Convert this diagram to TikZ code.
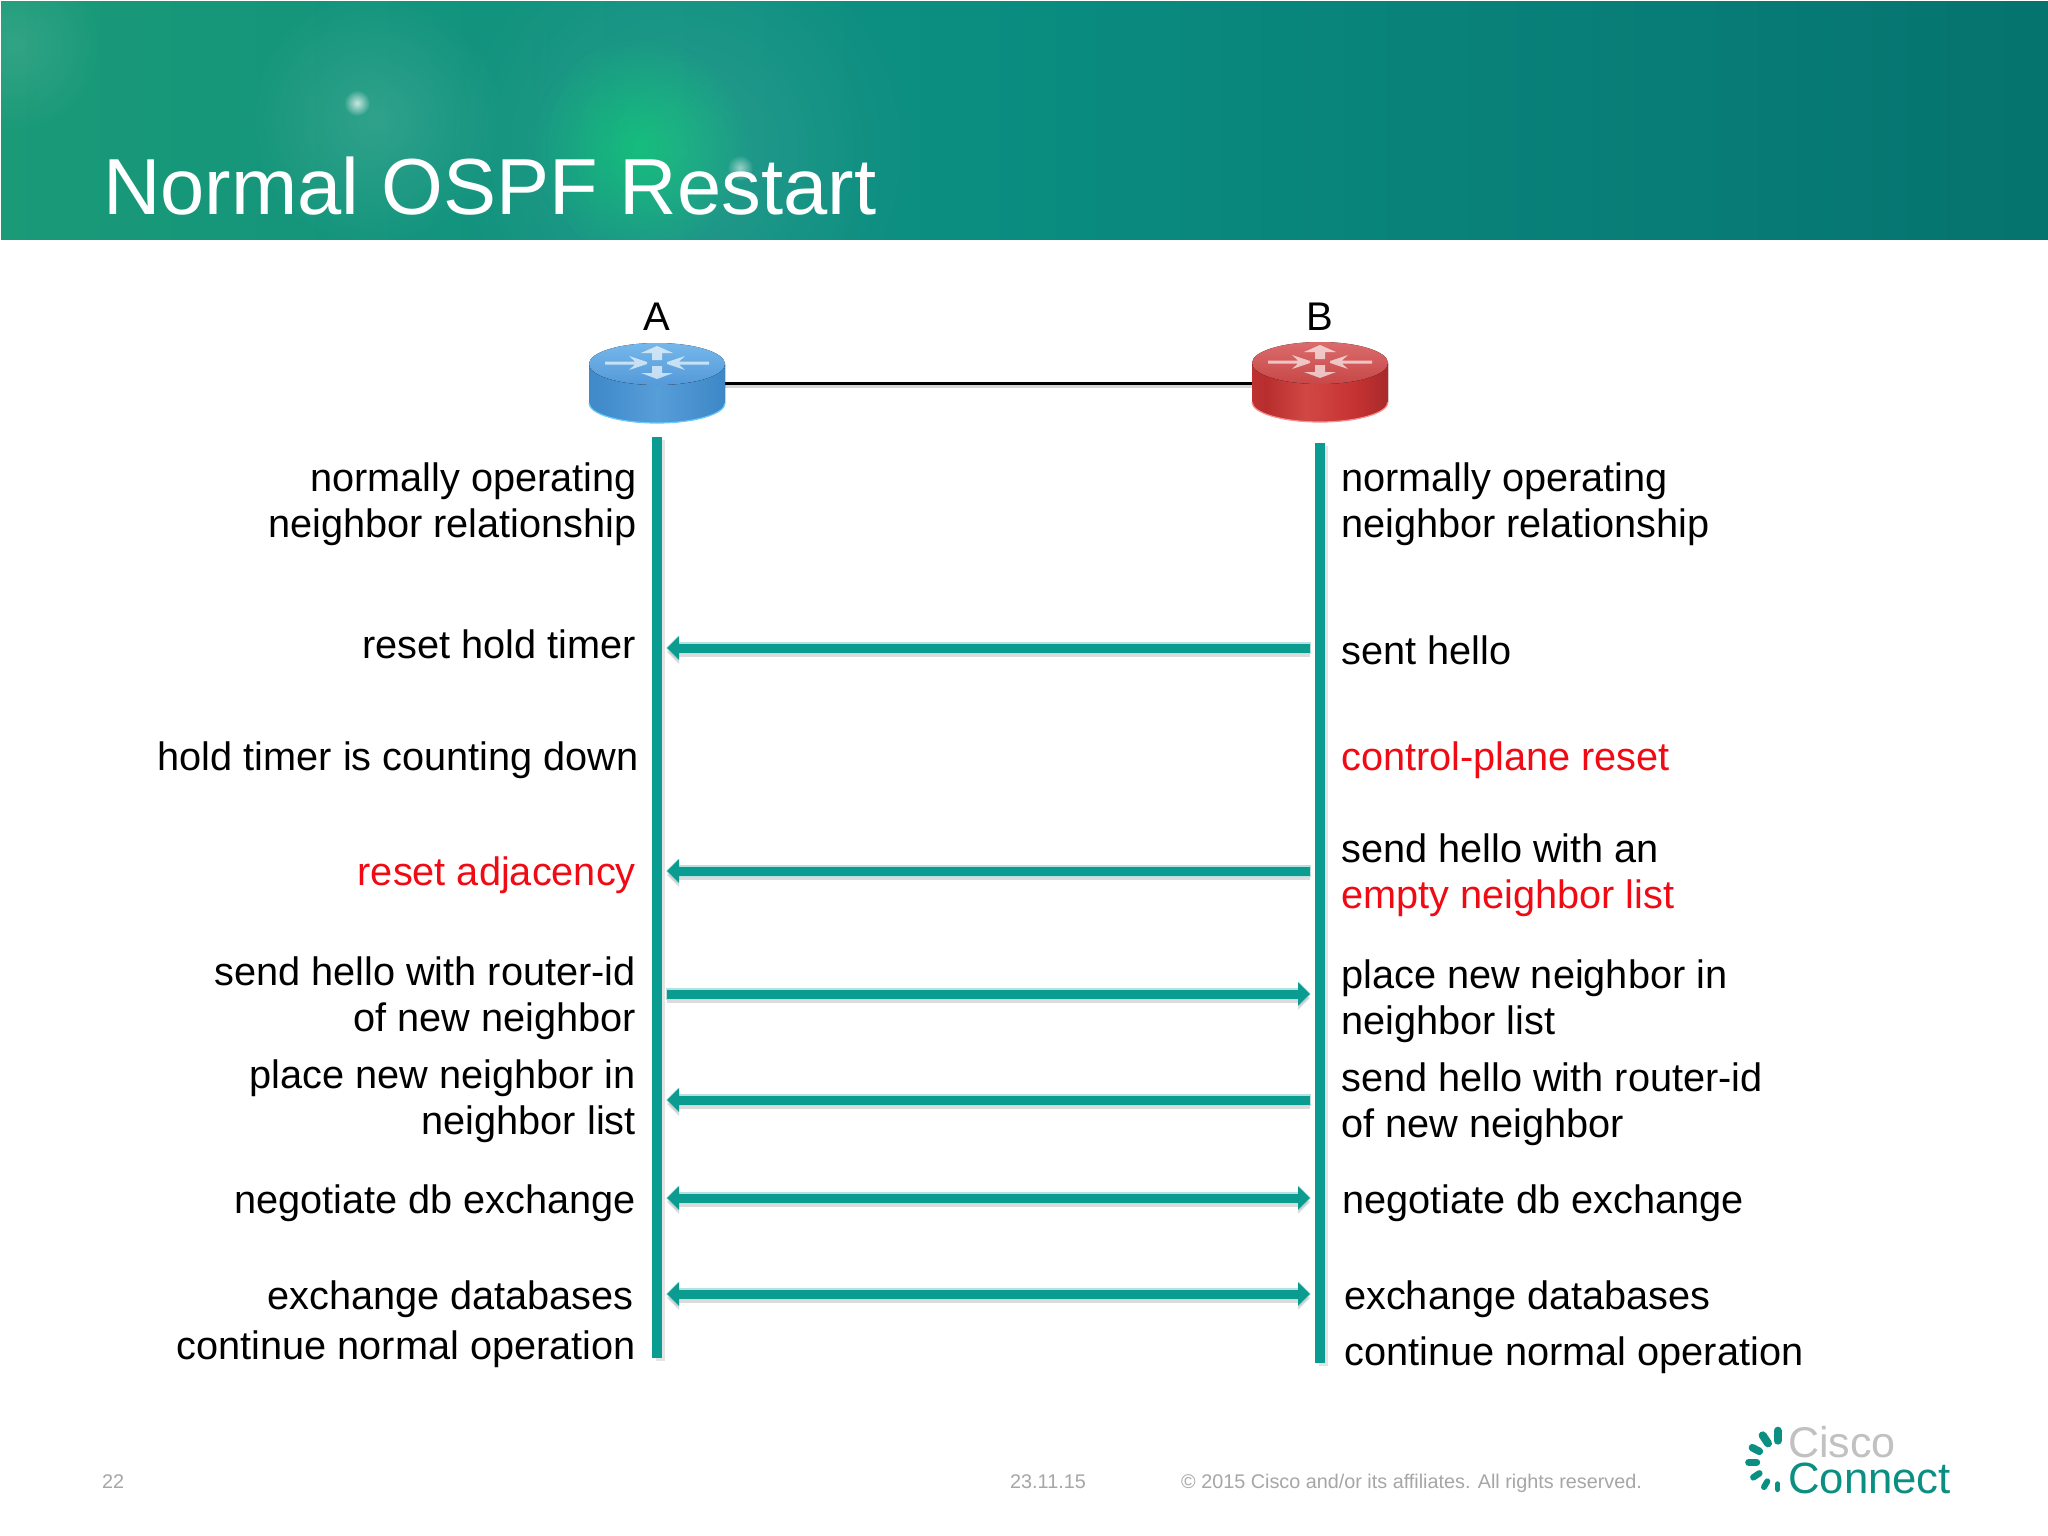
\documentclass[tikz,border=0pt]{standalone}
\usepackage{fontspec}
\setmainfont{Liberation Sans}
\usetikzlibrary{arrows.meta,fadings,shadings}
\definecolor{tealline}{HTML}{0A9C90}
\definecolor{redtext}{HTML}{F00A14}
\definecolor{foot}{HTML}{A6A6A6}
\definecolor{logo}{HTML}{0A8F82}
\pgfdeclarehorizontalshading{hdrbg}{100bp}{
 rgb(0bp)=(.22,.66,.38);
 rgb(10bp)=(.17,.63,.40);
 rgb(22bp)=(.11,.61,.46);
 rgb(40bp)=(.06,.57,.50);
 rgb(50bp)=(.04,.55,.50);
 rgb(68bp)=(.03,.48,.46);
 rgb(82bp)=(.01,.42,.40);
 rgb(100bp)=(.01,.36,.33)}
\pgfdeclarehorizontalshading{bluecyl}{100bp}{
 rgb(0bp)=(.22,.50,.76);rgb(30bp)=(.26,.55,.80);rgb(50bp)=(.34,.62,.85);rgb(75bp)=(.24,.53,.78);rgb(100bp)=(.20,.48,.74)}
\pgfdeclarehorizontalshading{redcyl}{100bp}{
 rgb(0bp)=(.68,.16,.17);rgb(12bp)=(.80,.22,.22);rgb(30bp)=(.72,.18,.18);rgb(45bp)=(.82,.28,.27);rgb(62bp)=(.78,.20,.20);rgb(82bp)=(.60,.14,.15);rgb(100bp)=(.72,.20,.20)}
\tikzfading[name=softglow,inner color=transparent!0,outer color=transparent!100]
\tikzset{
 x=1pt,y=-1pt,
 lab/.style={inner sep=0pt,font=\fontsize{39.7}{45.7}\selectfont,text=black},
 labl/.style={lab,anchor=base east,align=right},
 labr/.style={lab,anchor=base west,align=left},
 foottext/.style={inner sep=0pt,anchor=base west,font=\fontsize{19.8}{24}\selectfont,text=foot},
 hostbox/.style={inner sep=0pt,minimum width=136pt,minimum height=80pt},
 lifeline/.style={tealline,line width=9.5pt},
 lifeshadow/.style={black!35,opacity=.3,line width=9pt},
 msgline/.style={tealline,line width=9pt},
 msghalo/.style={tealline!30!white,line width=11.5pt},
 msgshadow/.style={black!40,opacity=.35,line width=9pt},
 tipa/.style={-{Triangle[length=12pt,width=23pt]}},
 tipb/.style={{Triangle[length=12pt,width=23pt]}-{Triangle[length=12pt,width=23pt]}},
 tipc/.style={{Triangle[length=12pt,width=23pt]}-},
 glow/.style={path fading=softglow},
}
\newcommand{\routerbody}[6]{%
 \begin{scope}[shift={(#1,#2)}]
  \fill[shading=#3] (-68,0) -- (-68,39) arc[start angle=180,end angle=360,x radius=68,y radius=-20] -- (68,0) arc[start angle=0,end angle=180,x radius=68,y radius=21] -- cycle;
  \draw[#4,line width=1.2pt] (-68,39) arc[start angle=180,end angle=360,x radius=68,y radius=-20];
  \fill[top color=#5,bottom color=#6] (0,0) ellipse[x radius=68,y radius=21];
  \fill[white,opacity=.65]
    (-52,-2.5) -- (-22,-2.5) -- (-28,-8) -- (-10,-2) -- (-10,0) -- (-28,6) -- (-22,0.5) -- (-52,0.5) -- cycle
    (52,-2.5) -- (22,-2.5) -- (28,-8) -- (10,-2) -- (10,0) -- (28,6) -- (22,0.5) -- (52,0.5) -- cycle
    (0,-18) -- (16,-11) -- (5,-11) -- (5,-4) -- (-5,-4) -- (-5,-11) -- (-16,-11) -- cycle
    (0,15) -- (16,9) -- (5,9) -- (5,2) -- (-5,2) -- (-5,9) -- (-16,9) -- cycle;
 \end{scope}}
\begin{document}
\begin{tikzpicture}
\useasboundingbox (0,0) rectangle (2048,1536);
\fill[white] (0,0) rectangle (2048,1536);
% header band
\begin{scope}
 \clip (1,2) rectangle (2048,239);
 \fill[shading=hdrbg] (1,2) rectangle (2048,239);
 \fill[white,opacity=.10,glow] (15,45) circle[radius=90];
 \fill[white,opacity=.12,glow] (376,120) circle[radius=130];
 \fill[white,opacity=.10,glow] (682,150) circle[radius=240];
 \fill[green!60!cyan,opacity=.35,glow] (640,147) circle[radius=110];
 \fill[white,opacity=.75,glow] (357,103) circle[radius=13];
 \fill[white,opacity=.55,glow] (740,168) circle[radius=13];
\end{scope}
\node[inner sep=0pt,anchor=base west,text=white,font=\fontsize{79.5}{90}\selectfont] (title) at (103,214) {Normal OSPF Restart};
% routers
\node[hostbox] (ra) at (657,383) {};
\node[hostbox] (rb) at (1320,383) {};
\draw[black!40,opacity=.4,line width=3pt] ([yshift=-3pt]ra.east) -- ([yshift=-3pt]rb.west);
\draw[black,line width=3pt] (ra.east) -- (rb.west);
\routerbody{657}{364}{bluecyl}{blue!35!cyan!60!white}{{rgb,1:red,.46;green,.72;blue,.92}}{{rgb,1:red,.33;green,.60;blue,.85}}
\routerbody{1320}{363}{redcyl}{red!45!white}{{rgb,1:red,.86;green,.42;blue,.42}}{{rgb,1:red,.78;green,.28;blue,.28}}
\node[inner sep=0pt,anchor=base,font=\fontsize{40}{45}\selectfont] (la) at (657,330) {A};
\node[inner sep=0pt,anchor=base,font=\fontsize{40}{45}\selectfont] (lb) at (1320,330) {B};
% lifelines
\coordinate (at) at (657,437); \coordinate (ab) at (657,1358);
\coordinate (bt) at (1320,443); \coordinate (bb) at (1320,1363);
\draw[lifeshadow] ([xshift=3pt,yshift=-3pt]at) -- ([xshift=3pt,yshift=-3pt]ab);
\draw[lifeshadow] ([xshift=3pt,yshift=-3pt]bt) -- ([xshift=3pt,yshift=-3pt]bb);
\draw[lifeline] (at) -- (ab);
\draw[lifeline] (bt) -- (bb);
% messages
\foreach \n/\yy/\tip in {1/648/tipc,2/871/tipc,3/994/tipa,4/1100/tipc,5/1198/tipb,6/1294/tipb}{
 \coordinate (l\n) at (667,\yy);
 \coordinate (r\n) at (1310,\yy);
 \draw[msgshadow,\tip] ([yshift=-4pt]l\n) -- ([yshift=-4pt]r\n);
 \draw[msghalo,\tip] ([xshift=-1pt]l\n) -- ([xshift=1pt]r\n);
 \draw[msgline,\tip] (l\n) -- (r\n);
}
% left column
\node[labl] (a1) at (637,537) {normally operating\\neighbor relationship};
\node[labl] (a2) at (636,658) {reset hold timer};
\node[labl] (a3) at (639,770) {hold timer is counting down};
\node[labl,text=redtext] (a4) at (636,885) {reset adjacency};
\node[labl] (a5) at (636,1031) {send hello with router-id\\of new neighbor};
\node[labl] (a6) at (636,1134) {place new neighbor in\\neighbor list};
\node[labl] (a7) at (636,1213) {negotiate db exchange};
\node[labl] (a8) at (634,1309) {exchange databases};
\node[labl] (a9) at (636,1359) {continue normal operation};
% right column
\node[labr] (b1) at (1341,537) {normally operating\\neighbor relationship};
\node[labr] (b2) at (1341,664) {sent hello};
\node[labr,text=redtext] (b3) at (1341,770) {control-plane reset};
\node[labr] (b4) at (1341,908) {send hello with an\\\textcolor{redtext}{empty neighbor list}};
\node[labr] (b5) at (1341,1034) {place new neighbor in\\neighbor list};
\node[labr] (b6) at (1341,1137) {send hello with router-id\\of new neighbor};
\node[labr] (b7) at (1342,1213) {negotiate db exchange};
\node[labr] (b8) at (1344,1309) {exchange databases};
\node[labr] (b9) at (1344,1365) {continue normal operation};
% footer
\node[foottext] (f1) at (102,1488) {22};
\node[foottext] (f2) at (1010,1488) {23.11.15};
\node[foottext] (f3) at (1181,1488) {© 2015 Cisco and/or its affiliates. All rights reserved.};
% logo
\begin{scope}[shift={(1700,1400)},x=.33333pt,y=-.33333pt,logo,line cap=round]
 \draw[line width=8pt] (233,92) -- (233,122);
 \draw[line width=8pt] (188,106) -- (204,130);
 \draw[line width=7.5pt] (157,143) -- (178,154);
 \draw[line width=7pt] (146,187) -- (170,187);
 \draw[line width=6.5pt] (160,232) -- (178,220);
 \draw[line width=6pt] (192,261) -- (202,244);
 \draw[line width=5.5pt] (233,252) -- (233,268);
\end{scope}
\node[inner sep=0pt,anchor=base west,text=foot!70!white,font=\fontsize{43}{46}\selectfont] (lc1) at (1788,1457) {Cisco};
\node[inner sep=0pt,anchor=base west,text=logo,font=\fontsize{43.7}{46}\selectfont] (lc2) at (1788,1493) {Connect};
\end{tikzpicture}
\end{document}
